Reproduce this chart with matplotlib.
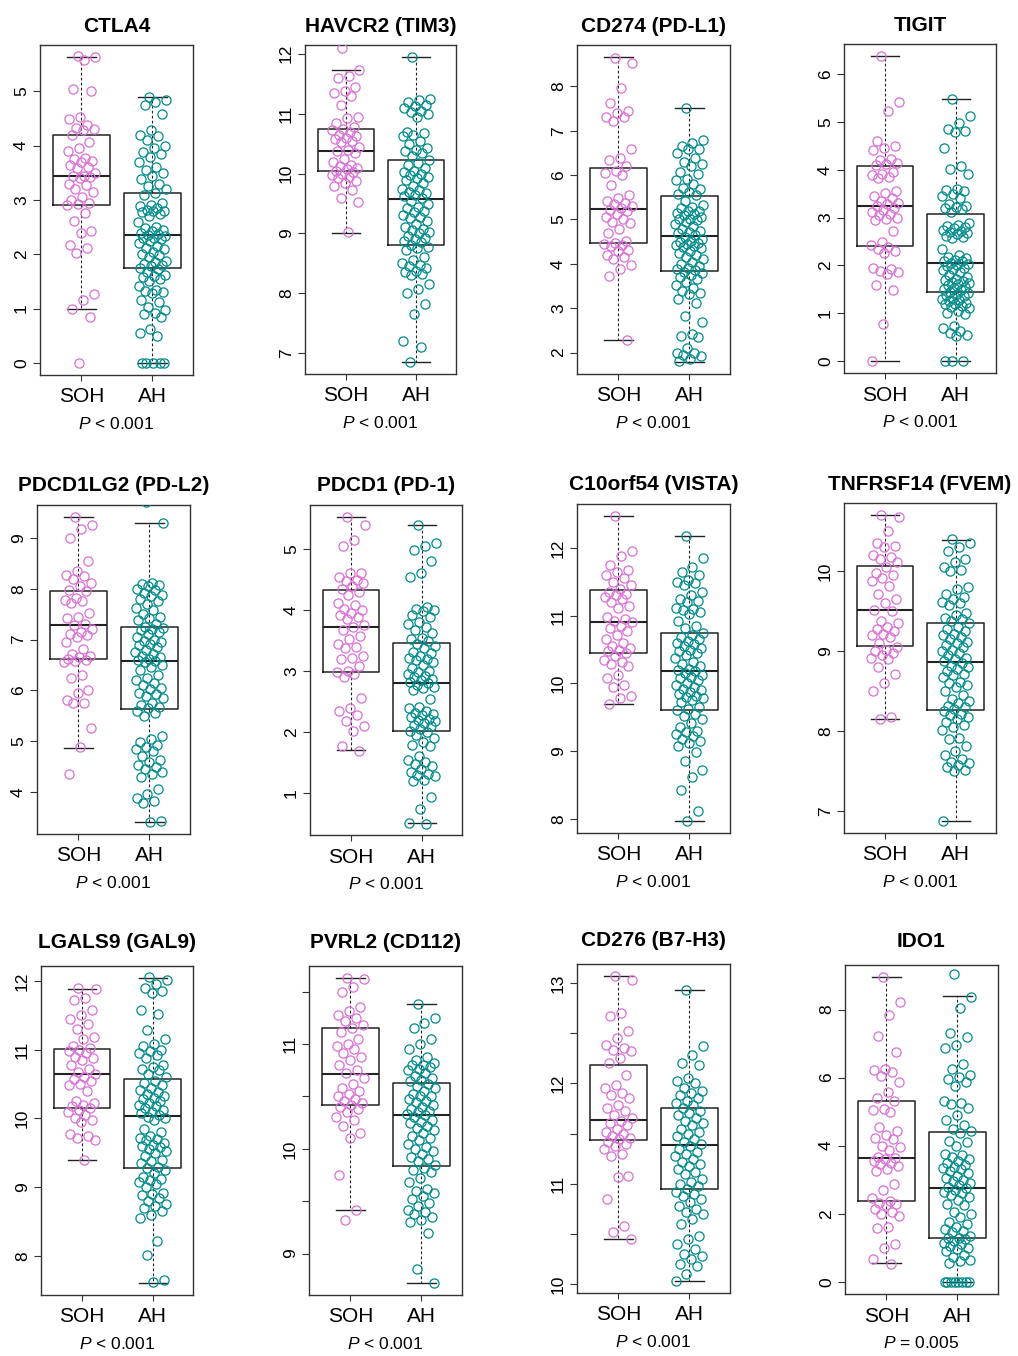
import numpy as np
import matplotlib
matplotlib.use("Agg")
import matplotlib.pyplot as plt

plt.rcParams['font.family'] = ['Liberation Sans', 'DejaVu Sans']
plt.rcParams['mathtext.fontset'] = 'custom'
plt.rcParams['mathtext.it'] = 'Liberation Sans:italic'
plt.rcParams['mathtext.rm'] = 'Liberation Sans'

titles = ["CTLA4", "HAVCR2 (TIM3)", "CD274 (PD-L1)", "TIGIT",
          "PDCD1LG2 (PD-L2)", "PDCD1 (PD-1)", "C10orf54 (VISTA)", "TNFRSF14 (FVEM)",
          "LGALS9 (GAL9)", "PVRL2 (CD112)", "CD276 (B7-H3)", "IDO1"]
p_values = ["< 0.001"] * 11 + ["= 0.005"]
groups = ["SOH", "AH"]
colors = ["orchid", "darkcyan"]

# box stats: (lower whisker, q1, median, q3, upper whisker)
soh_box = [(1.0, 2.91, 3.44, 4.19, 5.63), (9.0, 10.04, 10.37, 10.75, 11.72),
           (2.29, 4.46, 5.23, 6.16, 8.66), (0.0, 2.41, 3.25, 4.07, 6.38),
           (4.87, 6.62, 7.28, 7.95, 9.41), (1.71, 2.99, 3.73, 4.33, 5.52),
           (9.69, 10.45, 10.90, 11.38, 12.47), (8.15, 9.07, 9.51, 10.06, 10.70),
           (9.40, 10.15, 10.65, 11.01, 11.88), (9.42, 10.42, 10.71, 11.15, 11.63),
           (10.45, 11.44, 11.63, 12.18, 13.07), (0.54, 2.38, 3.64, 5.30, 8.95)]
ah_box = [(0.0, 1.75, 2.35, 3.12, 4.89), (6.86, 8.80, 9.57, 10.22, 11.94),
          (1.79, 3.83, 4.62, 5.53, 7.51), (0.0, 1.44, 2.05, 3.08, 5.48),
          (3.41, 5.63, 6.57, 7.24, 9.30), (0.52, 2.02, 2.81, 3.47, 5.40),
          (7.97, 9.60, 10.19, 10.74, 12.17), (6.88, 8.26, 8.87, 9.35, 10.39),
          (7.61, 9.28, 10.04, 10.57, 12.04), (8.72, 9.84, 10.32, 10.63, 11.38),
          (10.03, 10.95, 11.39, 11.75, 12.93), (0.0, 1.29, 2.76, 4.40, 8.41)]

y_ticks = [[0, 1, 2, 3, 4, 5], [7, 8, 9, 10, 11, 12], [2, 3, 4, 5, 6, 7, 8], [0, 1, 2, 3, 4, 5, 6],
           [4, 5, 6, 7, 8, 9], [1, 2, 3, 4, 5], [8, 9, 10, 11, 12], [7, 8, 9, 10],
           [8, 9, 10, 11, 12], [9, 9.5, 10, 10.5, 11, 11.5],
           [10, 10.5, 11, 11.5, 12, 12.5, 13], [0, 2, 4, 6, 8]]

ctla4_soh = [5.65, 5.63, 5.57, 5.05, 5.0, 4.52, 4.5, 4.38, 4.32, 4.3, 4.28, 4.2, 4.07, 3.95, 3.9, 3.78,
             3.75, 3.72, 3.7, 3.65, 3.6, 3.58, 3.5, 3.45, 3.45, 3.42, 3.4, 3.3, 3.27, 3.2, 3.15, 3.05,
             3.0, 2.95, 2.92, 2.9, 2.76, 2.62, 2.43, 2.4, 2.17, 2.12, 2.03, 1.27, 1.15, 1.0, 0.85, 0.0]
ctla4_ah = [4.9, 4.85, 4.8, 4.75, 4.58, 4.28, 4.2, 4.18, 4.1, 4.0, 3.95, 3.88, 3.85, 3.8, 3.7, 3.6,
            3.55, 3.5, 3.45, 3.38, 3.3, 3.25, 3.2, 3.12, 3.1, 2.95, 2.9, 2.88, 2.85, 2.82, 2.8, 2.8,
            2.78, 2.75, 2.7, 2.6, 2.5, 2.48, 2.45, 2.42, 2.4, 2.38, 2.35, 2.33, 2.3, 2.3, 2.28, 2.25,
            2.2, 2.15, 2.12, 2.1, 2.05, 2.0, 1.98, 1.95, 1.88, 1.85, 1.82, 1.8, 1.78, 1.75, 1.72,
            1.68, 1.62, 1.6, 1.58, 1.55, 1.5, 1.42, 1.35, 1.33, 1.3, 1.28, 1.15, 1.12, 1.02, 0.98,
            0.92, 0.9, 0.85, 0.62, 0.55, 0.5, 0.0, 0.0, 0.0, 0.0, 0.0]
havcr2_soh = [12.1, 11.73, 11.62, 11.6, 11.45, 11.38, 11.35, 11.3, 11.15, 10.95, 10.92, 10.85, 10.78,
              10.75, 10.73, 10.7, 10.65, 10.62, 10.6, 10.58, 10.55, 10.52, 10.45, 10.4, 10.38, 10.35,
              10.25, 10.2, 10.15, 10.12, 10.1, 10.08, 10.05, 10.02, 10.0, 9.98, 9.95, 9.92, 9.88,
              9.85, 9.8, 9.72, 9.6, 9.53, 9.02]
havcr2_ah = [11.95, 11.25, 11.22, 11.2, 11.15, 11.12, 11.1, 11.05, 11.02, 11.0, 10.95, 10.7, 10.68,
             10.65, 10.62, 10.55, 10.5, 10.42, 10.4, 10.38, 10.35, 10.3, 10.22, 10.18, 10.15, 10.1,
             10.05, 10.02, 10.0, 9.98, 9.95, 9.92, 9.9, 9.85, 9.8, 9.75, 9.72, 9.7, 9.68, 9.65, 9.62,
             9.6, 9.55, 9.5, 9.45, 9.42, 9.38, 9.35, 9.3, 9.28, 9.25, 9.2, 9.15, 9.1, 9.08, 9.05, 9.02,
             9.0, 8.95, 8.92, 8.9, 8.88, 8.85, 8.8, 8.78, 8.75, 8.72, 8.6, 8.55, 8.5, 8.48, 8.45, 8.42,
             8.38, 8.35, 8.32, 8.3, 8.15, 8.08, 8.0, 7.82, 7.65, 7.2, 7.1, 6.86]
cd274_soh = [8.65, 8.52, 7.97, 7.63, 7.45, 7.4, 7.32, 7.3, 7.22, 6.6, 6.38, 6.35, 6.2, 6.1, 6.05, 6.0,
             5.78, 5.55, 5.48, 5.42, 5.38, 5.35, 5.3, 5.25, 5.22, 5.18, 5.12, 5.05, 5.0, 4.95, 4.92,
             4.78, 4.7, 4.52, 4.48, 4.45, 4.42, 4.4, 4.32, 4.28, 4.2, 4.15, 4.1, 3.98, 3.88, 3.72, 2.29]
cd274_ah = [7.52, 6.8, 6.72, 6.65, 6.6, 6.58, 6.5, 6.38, 6.3, 6.25, 6.2, 6.08, 6.02, 5.92, 5.88, 5.8,
            5.72, 5.68, 5.62, 5.58, 5.55, 5.42, 5.32, 5.28, 5.25, 5.2, 5.18, 5.15, 5.12, 5.1, 5.05,
            5.02, 5.0, 4.98, 4.95, 4.9, 4.85, 4.78, 4.75, 4.72, 4.7, 4.65, 4.6, 4.55, 4.52, 4.5, 4.48,
            4.45, 4.42, 4.4, 4.38, 4.35, 4.3, 4.25, 4.2, 4.15, 4.1, 4.05, 4.0, 3.95, 3.9, 3.88, 3.85,
            3.82, 3.8, 3.75, 3.7, 3.65, 3.58, 3.52, 3.45, 3.38, 3.35, 3.32, 3.2, 3.12, 2.82, 2.68,
            2.42, 2.38, 2.35, 2.1, 2.0, 1.98, 1.95, 1.92, 1.85, 1.8]
tigit_soh = [6.38, 5.42, 5.23, 4.6, 4.5, 4.45, 4.42, 4.22, 4.2, 4.15, 4.12, 4.1, 3.95, 3.92, 3.9, 3.85,
             3.82, 3.55, 3.52, 3.45, 3.4, 3.35, 3.3, 3.28, 3.25, 3.2, 3.15, 3.12, 3.08, 3.05, 3.0,
             2.98, 2.95, 2.72, 2.48, 2.42, 2.38, 2.35, 2.3, 2.25, 1.95, 1.92, 1.88, 1.85, 1.82, 1.58,
             1.48, 0.77, 0.0]
tigit_ah = [5.48, 5.12, 4.98, 4.85, 4.82, 4.8, 4.45, 4.08, 4.02, 3.92, 3.6, 3.58, 3.55, 3.5, 3.45,
            3.42, 3.28, 3.25, 3.22, 3.2, 3.18, 3.12, 2.88, 2.85, 2.82, 2.8, 2.78, 2.75, 2.72, 2.7,
            2.68, 2.65, 2.62, 2.6, 2.58, 2.35, 2.22, 2.18, 2.15, 2.12, 2.1, 2.08, 2.05, 2.02, 2.0,
            1.98, 1.95, 1.92, 1.9, 1.85, 1.8, 1.75, 1.72, 1.7, 1.68, 1.65, 1.62, 1.6, 1.58, 1.55,
            1.52, 1.5, 1.48, 1.45, 1.42, 1.4, 1.38, 1.35, 1.32, 1.3, 1.28, 1.25, 1.22, 1.2, 1.18,
            1.15, 1.12, 1.1, 1.05, 1.0, 0.98, 0.72, 0.68, 0.62, 0.58, 0.55, 0.52, 0.0, 0.0, 0.0]
pdcd1lg2_soh = [9.42, 9.25, 9.18, 9.0, 8.55, 8.35, 8.28, 8.25, 8.2, 8.12, 8.05, 7.98, 7.95, 7.82,
                7.78, 7.75, 7.72, 7.52, 7.45, 7.42, 7.3, 7.28, 7.2, 7.15, 7.1, 7.08, 7.05, 6.95, 6.82,
                6.72, 6.68, 6.65, 6.62, 6.6, 6.58, 6.55, 6.3, 6.25, 6.0, 5.95, 5.8, 5.75, 5.75, 5.25,
                4.88, 4.35]
pdcd1lg2_ah = [9.7, 9.3, 8.12, 8.1, 8.08, 8.05, 8.0, 7.98, 7.92, 7.88, 7.85, 7.8, 7.75, 7.7, 7.62,
               7.58, 7.5, 7.45, 7.42, 7.38, 7.3, 7.25, 7.22, 7.2, 7.18, 7.15, 7.1, 7.05, 7.0, 6.98,
               6.95, 6.92, 6.9, 6.85, 6.8, 6.75, 6.72, 6.68, 6.65, 6.62, 6.6, 6.58, 6.55, 6.5, 6.45,
               6.4, 6.3, 6.25, 6.2, 6.15, 6.1, 6.05, 6.02, 5.95, 5.92, 5.88, 5.85, 5.75, 5.72, 5.68,
               5.65, 5.6, 5.55, 5.5, 5.1, 5.05, 4.98, 4.92, 4.88, 4.85, 4.8, 4.7, 4.62, 4.58, 4.52,
               4.48, 4.45, 4.4, 4.35, 4.3, 4.05, 3.95, 3.88, 3.82, 3.78, 3.42, 3.4]
pdcd1_soh = [5.53, 5.4, 5.15, 5.05, 4.6, 4.6, 4.55, 4.5, 4.48, 4.45, 4.4, 4.35, 4.3, 4.25, 4.12, 4.08,
             4.02, 4.0, 3.95, 3.92, 3.88, 3.85, 3.75, 3.72, 3.68, 3.58, 3.52, 3.45, 3.4, 3.38, 3.25,
             3.22, 3.2, 3.08, 3.0, 2.98, 2.95, 2.9, 2.57, 2.4, 2.35, 2.28, 2.18, 2.1, 2.02, 1.77, 1.7]
pdcd1_ah = [5.4, 5.1, 5.05, 4.98, 4.8, 4.6, 4.55, 4.05, 4.02, 4.0, 3.98, 3.92, 3.88, 3.8, 3.78, 3.72,
            3.68, 3.62, 3.55, 3.52, 3.5, 3.45, 3.42, 3.38, 3.32, 3.3, 3.25, 3.22, 3.2, 3.18, 3.15,
            3.1, 3.05, 3.0, 2.98, 2.95, 2.92, 2.9, 2.88, 2.85, 2.82, 2.8, 2.78, 2.75, 2.72, 2.7,
            2.55, 2.42, 2.4, 2.35, 2.32, 2.3, 2.28, 2.25, 2.22, 2.2, 2.18, 2.15, 2.12, 2.1, 2.05,
            2.02, 2.0, 1.95, 1.9, 1.85, 1.8, 1.78, 1.62, 1.55, 1.52, 1.48, 1.45, 1.4, 1.35, 1.32,
            1.3, 1.28, 1.22, 1.2, 0.95, 0.75, 0.52, 0.5]
c10orf54_soh = [12.47, 11.95, 11.88, 11.75, 11.68, 11.65, 11.6, 11.55, 11.5, 11.45, 11.4, 11.35,
                11.32, 11.3, 11.28, 11.25, 11.2, 11.15, 11.12, 10.98, 10.95, 10.92, 10.9, 10.85,
                10.82, 10.78, 10.72, 10.65, 10.6, 10.55, 10.52, 10.5, 10.48, 10.45, 10.4, 10.35,
                10.32, 10.28, 10.25, 10.12, 10.08, 9.98, 9.95, 9.82, 9.78, 9.7]
c10orf54_ah = [12.17, 11.85, 11.72, 11.65, 11.6, 11.52, 11.5, 11.48, 11.45, 11.35, 11.3, 11.25, 11.22,
               11.2, 11.12, 11.1, 11.08, 11.05, 11.02, 10.92, 10.85, 10.82, 10.75, 10.72, 10.68,
               10.65, 10.62, 10.6, 10.58, 10.55, 10.52, 10.5, 10.48, 10.45, 10.42, 10.38, 10.32,
               10.28, 10.25, 10.22, 10.2, 10.18, 10.15, 10.12, 10.1, 10.08, 10.05, 10.0, 9.98, 9.95,
               9.92, 9.9, 9.88, 9.85, 9.82, 9.8, 9.78, 9.75, 9.72, 9.65, 9.62, 9.6, 9.55, 9.52, 9.48,
               9.42, 9.35, 9.3, 9.28, 9.25, 9.22, 9.18, 9.15, 9.12, 9.08, 8.98, 8.85, 8.72, 8.62,
               8.42, 8.12, 7.97]
tnfrsf14_soh = [10.7, 10.68, 10.5, 10.35, 10.32, 10.3, 10.2, 10.18, 10.15, 10.12, 10.05, 9.98, 9.95,
                9.92, 9.88, 9.82, 9.72, 9.65, 9.6, 9.52, 9.5, 9.38, 9.35, 9.3, 9.28, 9.25, 9.22, 9.2,
                9.18, 9.1, 9.05, 9.02, 9.0, 8.98, 8.95, 8.92, 8.9, 8.8, 8.72, 8.6, 8.5, 8.18, 8.15]
tnfrsf14_ah = [10.4, 10.35, 10.3, 10.25, 10.15, 10.12, 10.05, 10.02, 10.0, 9.8, 9.78, 9.72, 9.68,
               9.65, 9.62, 9.6, 9.58, 9.48, 9.45, 9.42, 9.4, 9.38, 9.35, 9.3, 9.28, 9.25, 9.22, 9.2,
               9.18, 9.15, 9.12, 9.1, 9.08, 9.05, 9.02, 9.0, 8.98, 8.95, 8.92, 8.9, 8.88, 8.85, 8.82,
               8.8, 8.78, 8.75, 8.72, 8.7, 8.68, 8.62, 8.6, 8.58, 8.55, 8.5, 8.45, 8.4, 8.38, 8.35,
               8.32, 8.3, 8.28, 8.25, 8.22, 8.2, 8.18, 8.15, 8.12, 8.08, 8.05, 8.02, 7.92, 7.9, 7.82,
               7.75, 7.7, 7.65, 7.62, 7.6, 7.58, 7.55, 7.52, 7.5, 6.88]
lgals9_soh = [11.9, 11.88, 11.75, 11.72, 11.58, 11.5, 11.45, 11.38, 11.3, 11.18, 11.15, 11.05, 11.02,
              11.0, 10.98, 10.95, 10.9, 10.88, 10.85, 10.78, 10.72, 10.68, 10.65, 10.6, 10.58, 10.55,
              10.5, 10.48, 10.4, 10.25, 10.22, 10.2, 10.18, 10.15, 10.12, 10.1, 10.05, 10.0, 9.98,
              9.95, 9.78, 9.75, 9.72, 9.68, 9.4]
lgals9_ah = [12.05, 12.02, 11.95, 11.9, 11.85, 11.82, 11.58, 11.52, 11.28, 11.15, 11.08, 11.05, 11.0,
             10.98, 10.95, 10.92, 10.88, 10.78, 10.75, 10.72, 10.7, 10.65, 10.6, 10.55, 10.52, 10.48,
             10.45, 10.42, 10.38, 10.35, 10.32, 10.3, 10.28, 10.25, 10.22, 10.2, 10.18, 10.15, 10.12,
             10.1, 10.08, 10.05, 10.02, 10.0, 9.98, 9.85, 9.8, 9.75, 9.72, 9.7, 9.68, 9.65, 9.62, 9.6,
             9.58, 9.55, 9.52, 9.5, 9.45, 9.4, 9.38, 9.35, 9.3, 9.28, 9.25, 9.2, 9.15, 9.12, 9.1,
             9.08, 9.05, 9.0, 8.92, 8.9, 8.88, 8.85, 8.8, 8.75, 8.72, 8.7, 8.65, 8.6, 8.55, 8.22,
             8.02, 7.65, 7.62]
pvrl2_soh = [11.63, 11.62, 11.55, 11.5, 11.35, 11.32, 11.28, 11.25, 11.22, 11.18, 11.15, 11.12, 11.05,
             11.0, 10.98, 10.95, 10.92, 10.88, 10.85, 10.8, 10.75, 10.72, 10.68, 10.62, 10.58, 10.55,
             10.52, 10.5, 10.48, 10.46, 10.44, 10.42, 10.4, 10.38, 10.35, 10.3, 10.28, 10.22, 10.15,
             10.1, 9.75, 9.42, 9.32]
pvrl2_ah = [11.38, 11.25, 11.2, 11.15, 11.05, 11.0, 10.95, 10.88, 10.85, 10.82, 10.8, 10.8, 10.78,
            10.76, 10.75, 10.72, 10.7, 10.68, 10.66, 10.65, 10.62, 10.6, 10.58, 10.55, 10.52, 10.5,
            10.5, 10.48, 10.46, 10.45, 10.42, 10.4, 10.38, 10.36, 10.35, 10.33, 10.32, 10.3, 10.28,
            10.26, 10.25, 10.22, 10.2, 10.18, 10.15, 10.12, 10.1, 10.08, 10.05, 10.02, 10.0, 9.98,
            9.95, 9.92, 9.9, 9.88, 9.85, 9.82, 9.8, 9.78, 9.72, 9.68, 9.62, 9.6, 9.58, 9.55, 9.52,
            9.48, 9.45, 9.42, 9.4, 9.38, 9.35, 9.32, 9.3, 9.2, 8.85, 8.72]
cd276_soh = [13.07, 13.03, 12.7, 12.67, 12.52, 12.45, 12.38, 12.35, 12.33, 12.32, 12.25, 12.2, 12.08,
             11.98, 11.95, 11.9, 11.88, 11.85, 11.78, 11.75, 11.72, 11.68, 11.65, 11.62, 11.6, 11.58,
             11.55, 11.52, 11.5, 11.48, 11.46, 11.45, 11.42, 11.4, 11.38, 11.35, 11.3, 11.28, 11.08,
             11.07, 10.85, 10.58, 10.52, 10.45]
cd276_ah = [12.93, 12.37, 12.28, 12.2, 12.18, 12.05, 12.02, 12.0, 11.95, 11.92, 11.9, 11.88, 11.85,
            11.82, 11.8, 11.78, 11.75, 11.72, 11.7, 11.68, 11.65, 11.62, 11.6, 11.58, 11.55, 11.52,
            11.5, 11.48, 11.45, 11.42, 11.4, 11.38, 11.35, 11.32, 11.3, 11.28, 11.25, 11.22, 11.2,
            11.18, 11.15, 11.12, 11.1, 11.05, 11.02, 11.0, 10.98, 10.95, 10.92, 10.9, 10.88, 10.85,
            10.82, 10.78, 10.75, 10.72, 10.7, 10.65, 10.6, 10.48, 10.45, 10.4, 10.35, 10.3, 10.28,
            10.25, 10.2, 10.18, 10.1, 10.03]
ido1_soh = [8.95, 8.22, 7.85, 7.22, 6.75, 6.25, 6.22, 6.15, 6.05, 5.88, 5.58, 5.4, 5.3, 5.08, 5.05,
            4.98, 4.55, 4.42, 4.3, 4.22, 4.2, 4.0, 3.95, 3.88, 3.68, 3.65, 3.6, 3.55, 3.5, 3.45, 3.4,
            3.32, 3.25, 2.88, 2.7, 2.45, 2.38, 2.32, 2.28, 2.25, 2.15, 2.05, 2.0, 1.92, 1.6, 1.58,
            1.1, 0.98, 0.68, 0.52]
ido1_ah = [9.05, 8.38, 8.05, 7.3, 7.18, 6.95, 6.88, 6.4, 6.25, 6.08, 6.02, 5.95, 5.88, 5.75, 5.3,
           5.25, 5.22, 5.1, 4.9, 4.75, 4.6, 4.5, 4.42, 4.38, 4.15, 4.12, 4.0, 3.75, 3.72, 3.68, 3.6,
           3.55, 3.5, 3.42, 3.38, 3.35, 3.3, 3.25, 3.2, 3.1, 3.05, 3.0, 2.95, 2.9, 2.85, 2.8, 2.75,
           2.7, 2.65, 2.6, 2.55, 2.5, 2.4, 2.3, 2.25, 2.05, 2.0, 1.9, 1.75, 1.7, 1.6, 1.55, 1.5,
           1.45, 1.35, 1.3, 1.28, 1.25, 1.2, 1.15, 1.1, 1.05, 1.0, 0.95, 0.9, 0.8, 0.72, 0.65, 0.6,
           0.55, 0.0, 0.0, 0.0, 0.0, 0.0, 0.0, 0.0, 0.0]

soh_points = [ctla4_soh, havcr2_soh, cd274_soh, tigit_soh, pdcd1lg2_soh, pdcd1_soh,
              c10orf54_soh, tnfrsf14_soh, lgals9_soh, pvrl2_soh, cd276_soh, ido1_soh]
ah_points = [ctla4_ah, havcr2_ah, cd274_ah, tigit_ah, pdcd1lg2_ah, pdcd1_ah,
             c10orf54_ah, tnfrsf14_ah, lgals9_ah, pvrl2_ah, cd276_ah, ido1_ah]

# panel frames in pixels: left, top, right, bottom
W, H = 1018, 1356
frames = [(40, 45, 193, 375), (305, 45, 456, 374), (577, 45, 730, 374), (844, 44, 996, 373),
          (37, 505, 190, 834), (310, 505, 462, 835), (577, 504, 730, 833), (844, 503, 996, 833),
          (41, 966, 193, 1295), (309, 966, 462, 1295), (577, 964, 730, 1293), (845, 965, 998, 1294)]
title_gap = [13, 13, 13, 13, 14, 14, 14, 13, 18, 18, 18, 18]  # px from frame top to title baseline


def spread(n):
    # deterministic horizontal spread for the strip points
    return 0.2 * (2 * ((np.arange(n) * 0.618034 + 0.37) % 1.0) - 1)


fig = plt.figure(figsize=(W / 100, H / 100), dpi=100)
for i, (l, t, r, b) in enumerate(frames):
    ax = fig.add_axes([l / W, 1 - b / H, (r - l) / W, (b - t) / H])
    stats = []
    for box in (soh_box[i], ah_box[i]):
        lo, q1, med, q3, hi = box
        stats.append(dict(whislo=lo, q1=q1, med=med, q3=q3, whishi=hi, fliers=[]))
    ax.bxp(stats, positions=[1, 2], widths=0.8, capwidths=0.4, showfliers=False,
           boxprops=dict(color='#222222', lw=1.1),
           medianprops=dict(color='#222222', lw=1.5),
           whiskerprops=dict(color='#222222', lw=0.8, linestyle=(0, (2.5, 2))),
           capprops=dict(color='#222222', lw=1.0))
    for k, pts in enumerate((soh_points[i], ah_points[i])):
        y = np.asarray(pts)
        x = k + 1 + spread(len(y))
        ax.plot(x, y, 'o', ms=6.6, mfc='none', mec=colors[k], mew=0.9, zorder=3,
                clip_on=True)

    lo = min(soh_box[i][0], ah_box[i][0])
    hi = max(soh_box[i][4], ah_box[i][4])
    rng = hi - lo
    ax.set_ylim(lo - 0.04 * rng, hi + 0.04 * rng)
    ax.set_xlim(0.42, 2.57)

    ax.set_yticks(y_ticks[i])
    ax.set_yticklabels([str(int(v)) if float(v).is_integer() else '' for v in y_ticks[i]])
    ax.tick_params(axis='y', labelsize=12.5, length=5, width=0.8, pad=3, color='#333333')
    for lab in ax.get_yticklabels():
        lab.set_rotation(90)
        lab.set_va('center')
    ax.set_xticks([1, 2])
    ax.set_xticklabels(groups)
    ax.tick_params(axis='x', labelsize=15, length=4, width=0.8, pad=5, color='#333333')
    for sp in ax.spines.values():
        sp.set_color('#333333')
        sp.set_linewidth(1.0)

    ax.set_title(titles[i], fontsize=15, fontweight='bold', pad=title_gap[i] * 0.72)
    ax.annotate(r'$\mathit{P}$ ' + p_values[i], xy=(0.5, 0), xycoords='axes fraction',
                xytext=(0, -49 * 0.72), textcoords='offset points',
                ha='center', va='center', fontsize=12.5)

fig.savefig('out.png', dpi=100)
